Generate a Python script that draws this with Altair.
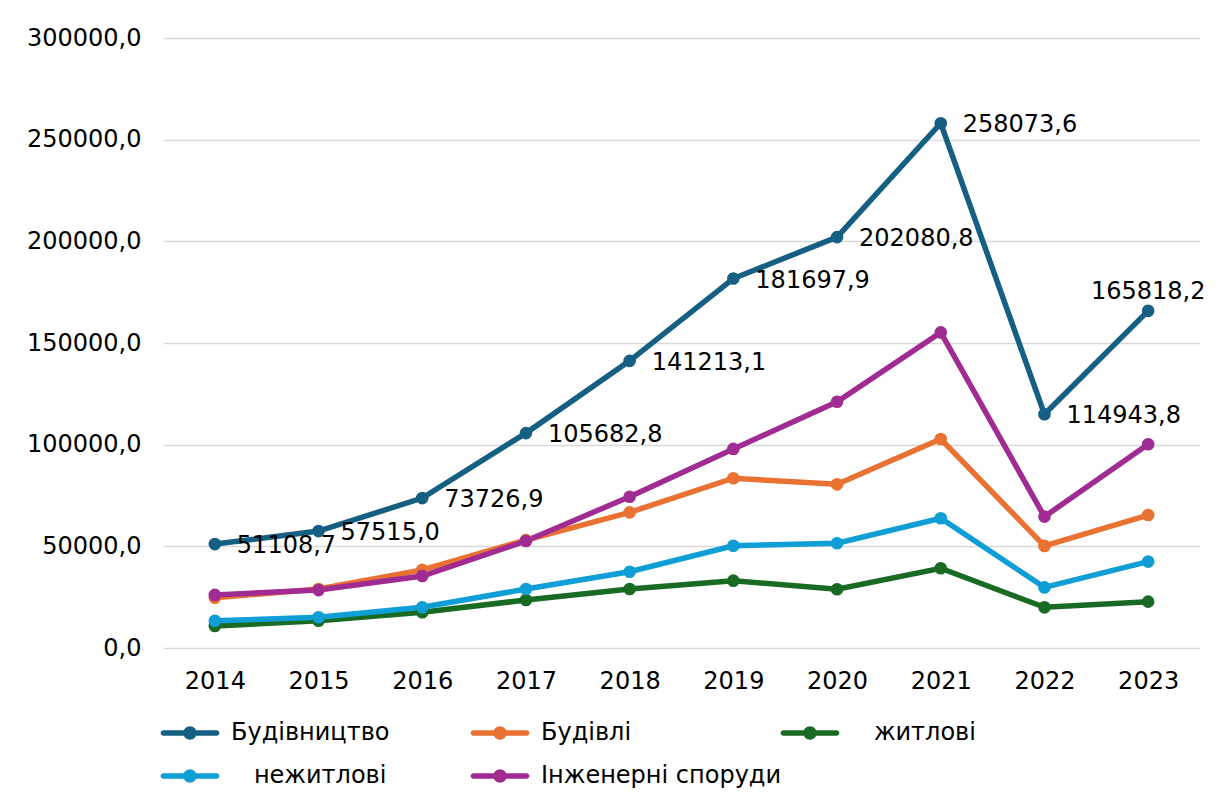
import altair as alt
import pandas as pd

years = ["2014", "2015", "2016", "2017", "2018", "2019", "2020", "2021", "2022", "2023"]
series_names = ["Будівництво", "Будівлі", "\u200d\u00a0\u00a0\u00a0житлові", "\u200d\u00a0\u00a0\u00a0нежитлові", "Інженерні споруди"]
colors = ["#156082", "#E97132", "#196B24", "#0F9ED5", "#A02B93"]

budivnytstvo = [51108.7, 57515.0, 73726.9, 105682.8, 141213.1, 181697.9, 202080.8, 258073.6, 114943.8, 165818.2]
budivli = [24700, 29000, 38400, 53100, 66700, 83500, 80500, 102800, 50200, 65400]
zhytlovi = [10800, 13400, 17600, 23600, 29000, 33100, 28900, 39200, 20000, 22800]
nezhytlovi = [13400, 15100, 20000, 29000, 37500, 50300, 51500, 63800, 29800, 42500]
inzhenerni = [26100, 28500, 35400, 52600, 74400, 97900, 121100, 155200, 64600, 100200]

y_ticks = [0, 50000, 100000, 150000, 200000, 250000, 300000]

values = [budivnytstvo, budivli, zhytlovi, nezhytlovi, inzhenerni]
rows = []
for si, (name, vals) in enumerate(zip(series_names, values)):
    for yr, v in zip(years, vals):
        rows.append({"year": yr, "series": name, "value": v, "order": si})
df = pd.DataFrame(rows)

FONT = "DejaVu Sans"
sym_path = (
    "M-1.9,-0.196 L1.9,-0.196 A0.196,0.196 0 0,1 1.9,0.196 L-1.9,0.196 "
    "A0.196,0.196 0 0,1 -1.9,-0.196 Z "
    "M0.48,0 A0.48,0.48 0 1,1 -0.48,0 A0.48,0.48 0 1,1 0.48,0 Z"
)

legend = alt.Legend(
    title=None,
    orient="none",
    legendX=13,
    legendY=681,
    direction="horizontal",
    columns=3,
    gridAlign="all",
    columnPadding=-2,
    rowPadding=17,
    padding=0,
    symbolType=sym_path,
    symbolSize=784,
    symbolStrokeWidth=0,
    symbolOpacity=1,
    labelOffset=27,
    labelFont=FONT,
    labelFontSize=24,
    labelColor="#000000",
    labelLimit=400,
)

scale = alt.Scale(domain=series_names, range=colors)
stroke = alt.Stroke("series:N", scale=scale, legend=legend)
fill = alt.Fill("series:N", scale=scale, legend=legend)

x = alt.X("year:O", scale=alt.Scale(type="point", padding=0.5), sort=years,
          axis=alt.Axis(title=None, labelAngle=0, ticks=False, domain=False, grid=False,
                        labelFont=FONT, labelFontSize=24, labelColor="#000000", labelPadding=21))
y = alt.Y("value:Q", scale=alt.Scale(domain=[0, 300000]),
          axis=alt.Axis(title=None, values=y_ticks, ticks=False, domain=False,
                        labelExpr="replace(format(datum.value, '.1f'), '.', ',')",
                        labelFont=FONT, labelFontSize=24, labelColor="#000000", labelPadding=22,
                        gridColor="#d9d9d9", gridWidth=1.5))

base = alt.Chart(df)

lines = base.mark_line(strokeWidth=5.5).encode(x=x, y=y, stroke=stroke, detail="series:N")
points = base.mark_point(filled=True, size=160, opacity=1, strokeWidth=0).encode(x=x, y=y, fill=fill)

lab_base = base.transform_filter(alt.datum.series == "Будівництво").transform_calculate(
    label="replace(format(datum.value, '.1f'), '.', ',')"
)
labels_right = lab_base.transform_filter(alt.datum.year != "2023").mark_text(
    align="left", baseline="middle", dx=22, dy=2, font=FONT, fontSize=24, color="#000000"
).encode(x=x, y=y, text="label:N")
labels_top = lab_base.transform_filter(alt.datum.year == "2023").mark_text(
    align="center", baseline="middle", dy=-19, font=FONT, fontSize=24, color="#000000"
).encode(x=x, y=y, text="label:N")

chart = alt.layer(lines, points, labels_right, labels_top).properties(
    width=1037, height=610,
    autosize=alt.AutoSizeParams(type="none"),
    padding={"left": 155, "top": 30, "right": 21, "bottom": 150},
).configure(background="#ffffff").configure_view(stroke=None)

chart.save("out.html", embed_options={"renderer": "svg", "actions": False})
